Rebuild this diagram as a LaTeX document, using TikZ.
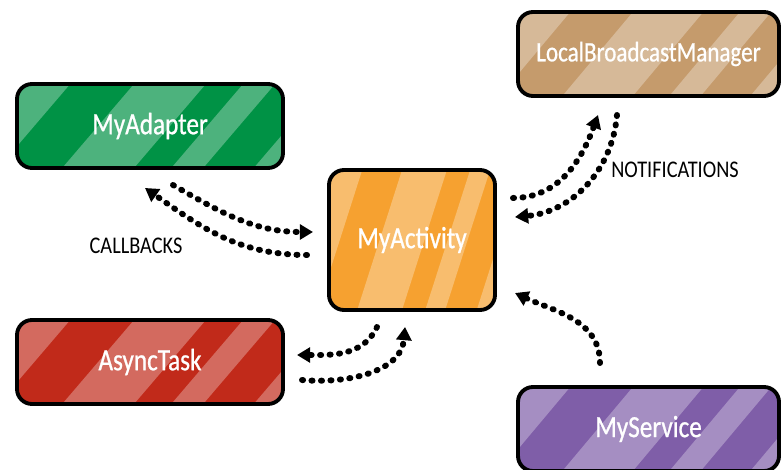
\documentclass[tikz,border=0pt]{standalone}
\usepackage{fontspec}
\usetikzlibrary{arrows.meta,calc}
\newfontfamily\sketchfont[FakeStretch=0.85]{Carlito}
\newfontfamily\cardfont[FakeStretch=0.82, FakeBold=0.8]{Carlito}
\definecolor{adpgreen}{RGB}{0,146,69}
\definecolor{actorange}{RGB}{246,161,48}
\definecolor{lbmtan}{RGB}{197,155,108}
\definecolor{taskred}{RGB}{193,42,26}
\definecolor{svcpurple}{RGB}{127,94,168}
\tikzset{
  card/.style={draw=black, line width=2.2pt, rounded corners=0.3cm, fill=#1, text=white,
    font=\cardfont\fontsize{17.5}{20}\selectfont, inner sep=0pt,
    minimum width=5.32cm, minimum height=1.68cm,
    path picture={
      \coordinate (sw) at (path picture bounding box.south west);
      \coordinate (ne) at (path picture bounding box.north east);
      \foreach \a/\b in {-0.5/-0.07, 0.17/0.44, 0.58/0.70, 0.89/1.3}
        \fill[white, opacity=.3, sharp corners] ($(sw)!\a!(sw-|ne)$) -- ($(sw)!\b!(sw-|ne)$)
          -- ($(sw|-ne)!{\b+0.27}!(ne)$) -- ($(sw|-ne)!{\a+0.27}!(ne)$) -- cycle;
    }},
  flow/.style={line width=3.4pt, line cap=round, dash pattern=on 0.6pt off 4.8pt,
    -{Triangle[length=7.5pt,width=8.5pt]}},
  tag/.style={font=\sketchfont\fontsize{13.6}{16}\selectfont}
}
\begin{document}
\begin{tikzpicture}
  \useasboundingbox (0,0) rectangle (15.62,9.38);
  \node [card=adpgreen] (Adp) at (3.0, 6.86) {MyAdapter};
  \node [card=actorange, minimum width=3.32cm, minimum height=2.8cm] (Act) at (8.24, 4.58) {MyActivity};
  \node [card=lbmtan, minimum width=5.22cm, font=\cardfont\fontsize{16}{20}\selectfont] (LBM) at (12.97, 8.3) {LocalBroadcastManager};
  \node [card=taskred] (Task) at (3.0, 2.14) {AsyncTask};
  \node [card=svcpurple, minimum width=5.22cm] (Svc) at (12.97, 0.8) {MyService};
  \node [tag] (CB) at (2.72, 4.46) {CALLBACKS};
  \node [tag] (NT) at (13.5, 5.98) {NOTIFICATIONS};
  \coordinate (a1s) at (3.46, 5.68);  \coordinate (a1e) at (6.26, 4.74);
  \coordinate (a2s) at (6.14, 4.28);  \coordinate (a2e) at (2.90, 5.62);
  \coordinate (a3s) at (10.26, 5.42); \coordinate (a3e) at (11.96, 7.08);
  \coordinate (a4s) at (12.34, 7.08); \coordinate (a4e) at (10.30, 5.04);
  \coordinate (a5s) at (7.54, 2.84);  \coordinate (a5e) at (5.94, 2.28);
  \coordinate (a6s) at (6.04, 1.78);  \coordinate (a6e) at (8.10, 2.84);
  \coordinate (a7s) at (12.0, 2.12);  \coordinate (a7e) at (10.30, 3.52);
  \draw [flow] (a1s) to [out=-30, in=180] (a1e);
  \draw [flow] (a2s) to [out=180, in=-35] (a2e);
  \draw [flow] (a3s) to [out=0, in=-110] (a3e);
  \draw [flow] (a4s) to [out=-95, in=5] (a4e);
  \draw [flow] (a5s) to [out=-115, in=0] (a5e);
  \draw [flow] (a6s) to [out=-5, in=-95] (a6e);
  \draw [flow] (a7s) to [out=90, in=-25] (a7e);
\end{tikzpicture}
\end{document}
